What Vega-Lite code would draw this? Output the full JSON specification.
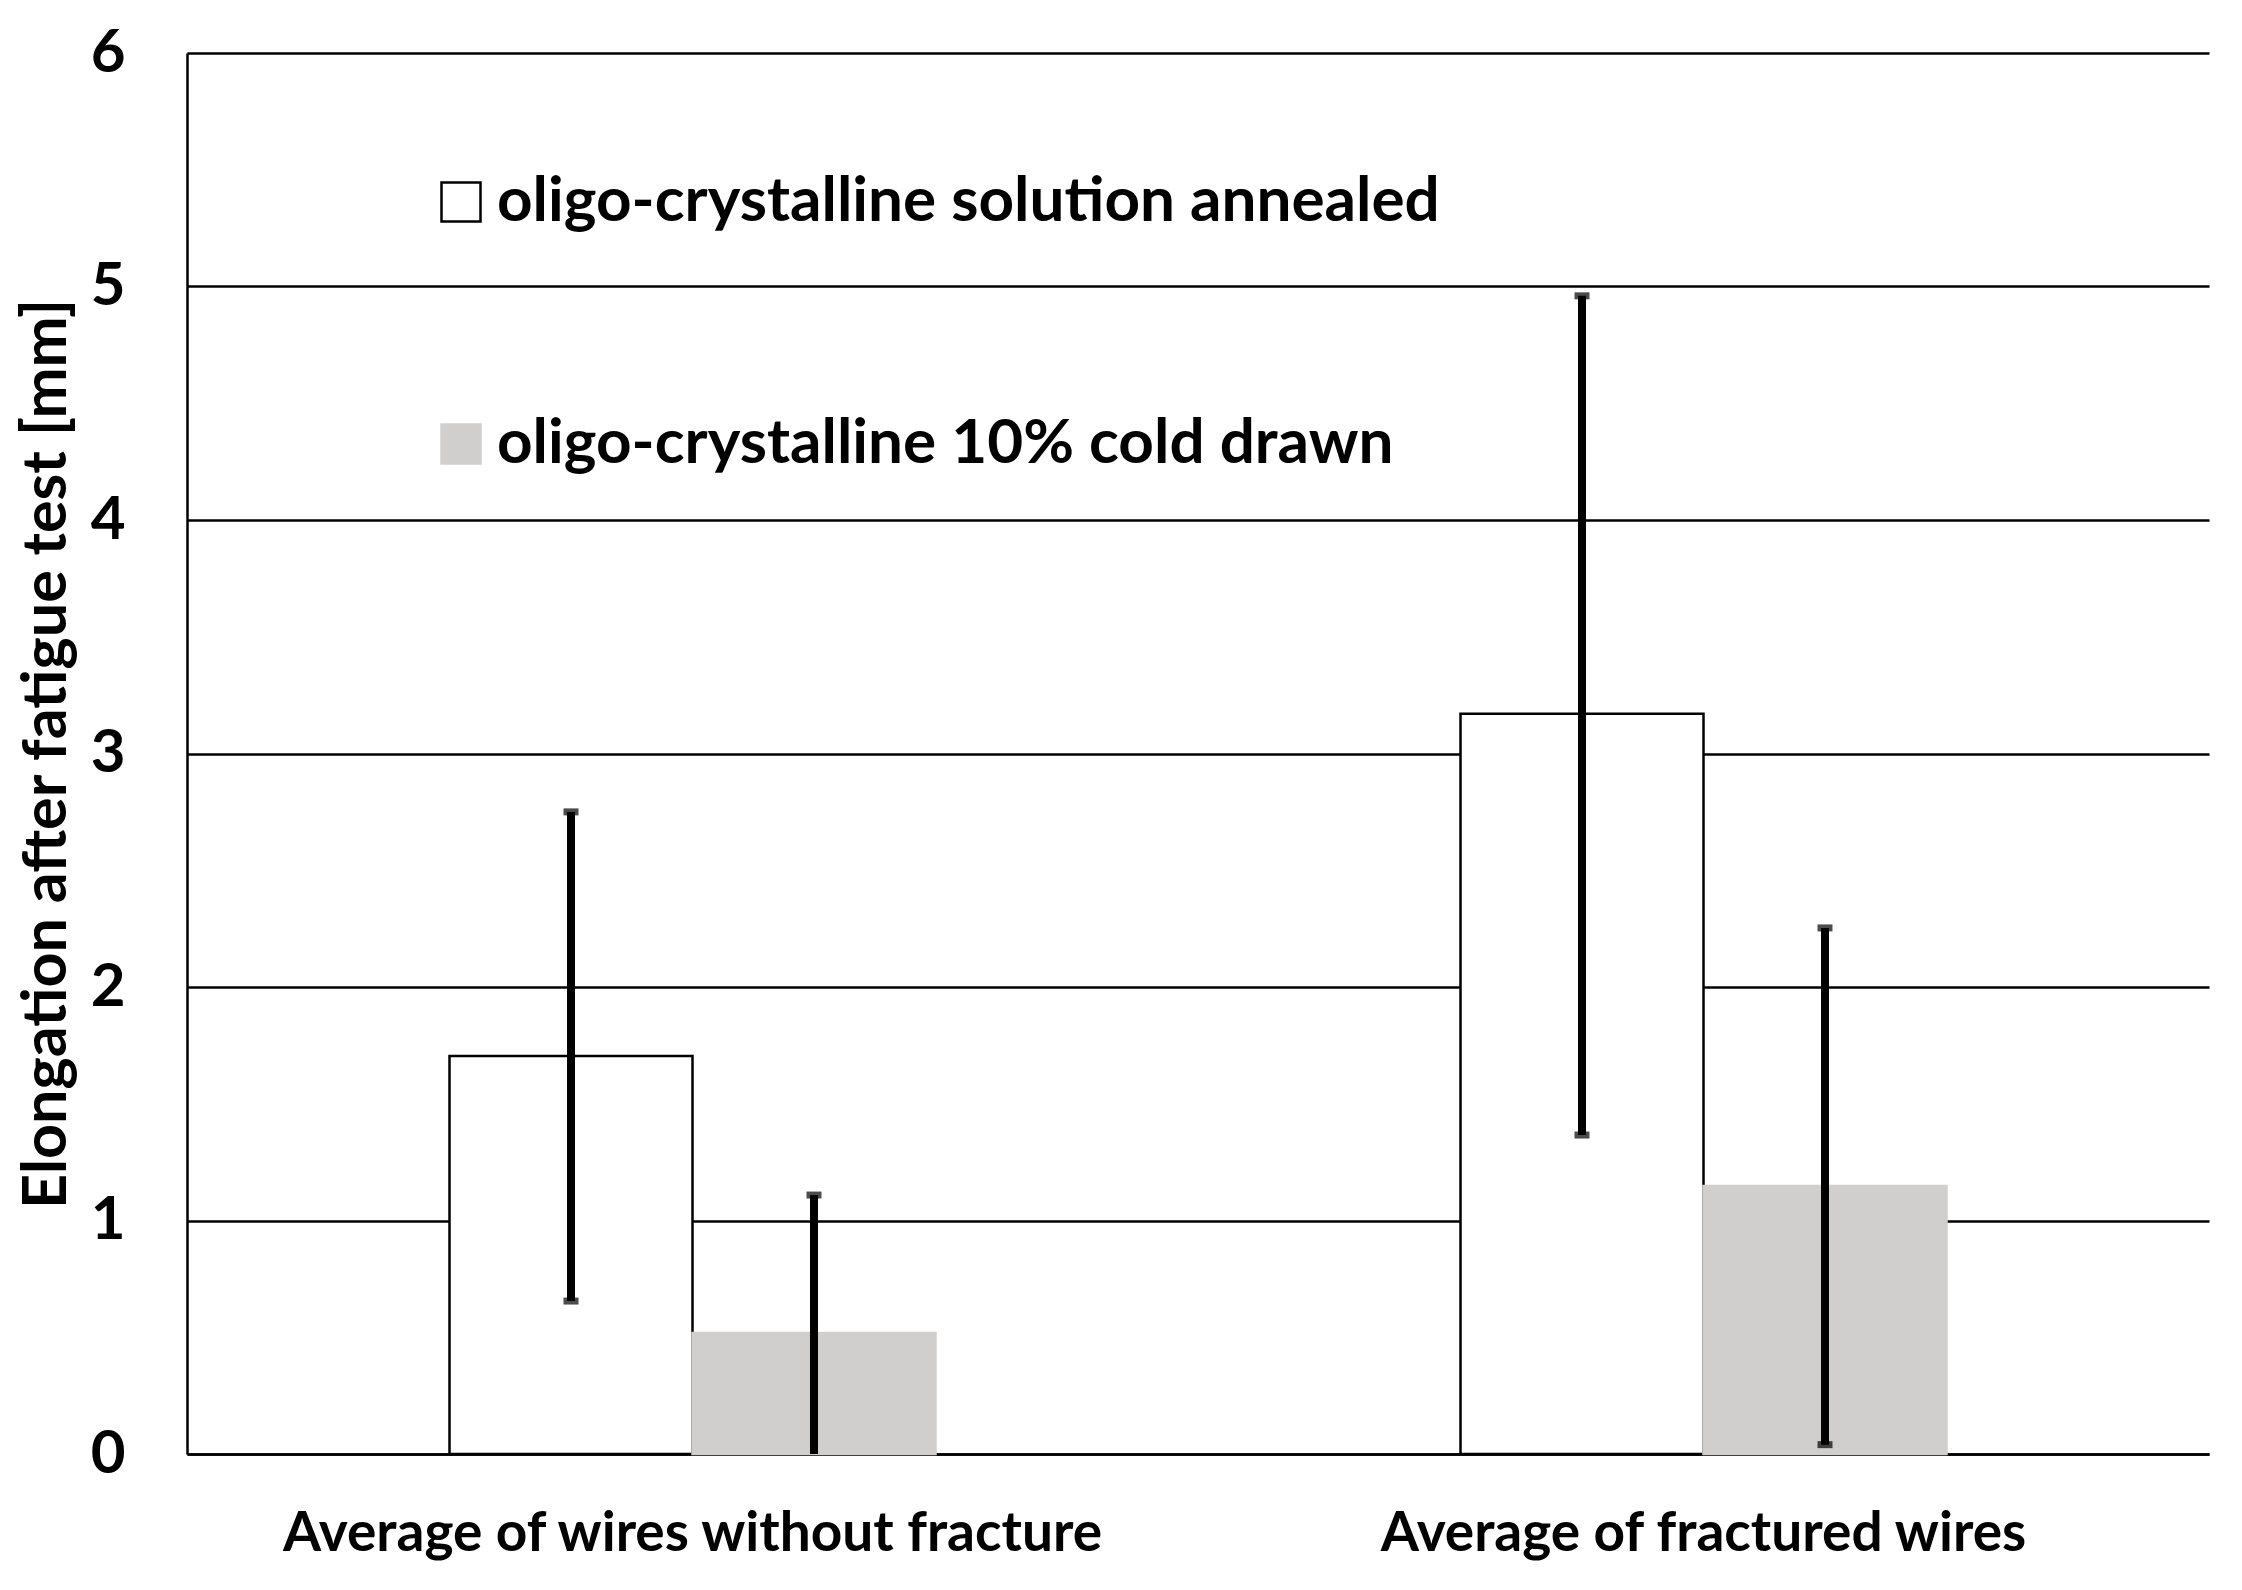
{
  "$schema": "https://vega.github.io/schema/vega-lite/v6.json",
  "autosize": "none",
  "width": 2022,
  "height": 1401,
  "padding": {"left": 187, "top": 53, "right": 33, "bottom": 136},
  "background": "white",
  "data": {
    "values": [
      {"group": "Average of wires without fracture", "series": "oligo-crystalline solution annealed", "mean": 1.705, "low": 0.655, "high": 2.75, "lowcap": 0.655},
      {"group": "Average of wires without fracture", "series": "oligo-crystalline 10% cold drawn", "mean": 0.518, "low": 0, "high": 1.109, "lowcap": null},
      {"group": "Average of fractured wires", "series": "oligo-crystalline solution annealed", "mean": 3.17, "low": 1.366, "high": 4.96, "lowcap": 1.366},
      {"group": "Average of fractured wires", "series": "oligo-crystalline 10% cold drawn", "mean": 1.148, "low": 0.04, "high": 2.253, "lowcap": 0.04}
    ]
  },
  "encoding": {
    "x": {
      "field": "group",
      "type": "nominal",
      "sort": null,
      "scale": {"paddingInner": 0.0386, "paddingOuter": 0.0193},
      "axis": {
        "title": null,
        "labelAngle": 0,
        "ticks": false,
        "domainColor": "black",
        "domainWidth": 2.5,
        "labelFont": "Lato",
        "labelFontWeight": "bold",
        "labelFontSize": 55,
        "labelColor": "black",
        "labelLimit": 0,
        "labelBaseline": "alphabetic",
        "labelPadding": 96
      }
    },
    "xOffset": {
      "field": "series",
      "type": "nominal",
      "sort": ["oligo-crystalline solution annealed", "oligo-crystalline 10% cold drawn"],
      "scale": {"paddingInner": 0, "paddingOuter": 1}
    }
  },
  "layer": [
    {
      "mark": {"type": "bar", "strokeWidth": 2.5},
      "encoding": {
        "y": {
          "field": "mean",
          "type": "quantitative",
          "scale": {"domain": [0, 6], "nice": false},
          "axis": {
            "title": "Elongation after fatigue test [mm]",
            "values": [0, 1, 2, 3, 4, 5, 6],
            "format": "d",
            "ticks": false,
            "grid": true,
            "gridColor": "black",
            "gridWidth": 2.5,
            "gridOpacity": 1,
            "domainColor": "black",
            "domainWidth": 2.5,
            "labelFont": "Lato",
            "labelFontWeight": "bold",
            "labelFontSize": 60,
            "labelColor": "black",
            "labelPadding": 62,
            "titleFont": "Lato",
            "titleFontWeight": "bold",
            "titleFontSize": 61,
            "titleColor": "black",
            "titlePadding": 12
          }
        },
        "fill": {
          "field": "series",
          "type": "nominal",
          "sort": ["oligo-crystalline solution annealed", "oligo-crystalline 10% cold drawn"],
          "scale": {"range": ["#ffffff", "#d0cfcd"]},
          "legend": {
            "title": null,
            "orient": "none",
            "legendX": 243,
            "legendY": 118,
            "direction": "vertical",
            "symbolType": "square",
            "symbolSize": 1521,
            "symbolStrokeWidth": 2.5,
            "symbolOpacity": 1,
            "labelFont": "Lato",
            "labelFontWeight": "bold",
            "labelFontSize": 62,
            "labelColor": "black",
            "labelOffset": 5,
            "labelLimit": 0,
            "rowPadding": 180,
            "padding": 0,
            "encode": {
              "symbols": {
                "update": {
                  "fill": {"signal": "datum.value == 'oligo-crystalline solution annealed' ? '#ffffff' : '#d0cfcd'"},
                  "stroke": {"signal": "datum.value == 'oligo-crystalline solution annealed' ? '#000000' : '#d0cfcd'"},
                  "strokeWidth": {"value": 2.5}
                }
              }
            }
          }
        },
        "stroke": {
          "field": "series",
          "type": "nominal",
          "sort": ["oligo-crystalline solution annealed", "oligo-crystalline 10% cold drawn"],
          "scale": {"range": ["#000000", "#d0cfcd"]},
          "legend": null
        }
      }
    },
    {
      "mark": {"type": "rule", "color": "black", "strokeWidth": 8},
      "encoding": {
        "y": {"field": "low", "type": "quantitative"},
        "y2": {"field": "high"}
      }
    },
    {
      "mark": {"type": "tick", "color": "black", "size": 15, "thickness": 7, "orient": "horizontal"},
      "encoding": {
        "y": {"field": "high", "type": "quantitative"}
      }
    },
    {
      "mark": {"type": "tick", "color": "black", "size": 15, "thickness": 7, "orient": "horizontal"},
      "encoding": {
        "y": {"field": "lowcap", "type": "quantitative"}
      }
    }
  ],
  "config": {
    "view": {"stroke": null},
    "font": "Lato"
  }
}
